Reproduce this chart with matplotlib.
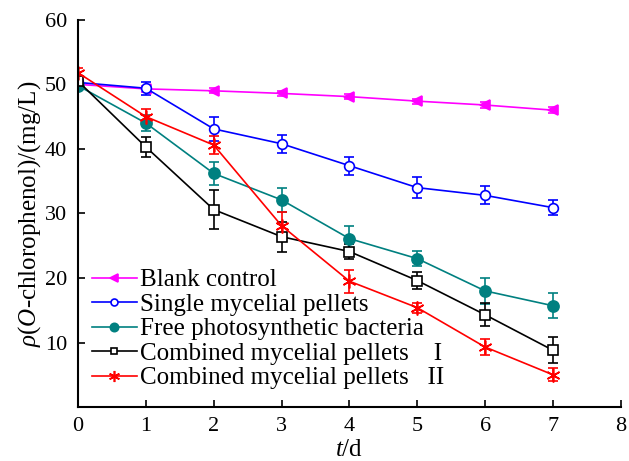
import matplotlib
matplotlib.use("Agg")
import matplotlib.pyplot as plt
from matplotlib.lines import Line2D

plt.rcParams['font.family'] = ['Liberation Serif', 'DejaVu Serif']
plt.rcParams['mathtext.fontset'] = 'custom'
plt.rcParams['mathtext.rm'] = 'Liberation Serif'
plt.rcParams['mathtext.it'] = 'Liberation Serif:italic'

days = [0, 1, 2, 3, 4, 5, 6, 7]
xticks = [0, 1, 2, 3, 4, 5, 6, 7, 8]
yticks = [10, 20, 30, 40, 50, 60]

blank = [50.0, 49.3, 49.0, 48.6, 48.1, 47.4, 46.8, 46.0]
blank_err = [0.5, 0.5, 0.4, 0.4, 0.4, 0.4, 0.4, 0.5]

single = [50.3, 49.4, 43.1, 40.8, 37.4, 34.0, 32.8, 30.9]
single_err = [0.6, 1.0, 1.8, 1.4, 1.4, 1.6, 1.4, 1.2]

free = [49.8, 44.0, 36.2, 32.1, 26.1, 23.0, 18.0, 15.7]
free_err = [0.6, 1.2, 1.8, 1.9, 2.0, 1.2, 2.0, 1.9]

comb1 = [50.5, 40.3, 30.6, 26.4, 24.1, 19.6, 14.3, 8.8]
comb1_err = [0.6, 1.5, 3.0, 2.3, 1.2, 1.3, 1.8, 2.0]

comb2 = [51.8, 45.0, 40.6, 28.1, 19.5, 15.4, 9.3, 5.0]
comb2_err = [0.8, 1.2, 1.4, 2.2, 1.8, 0.8, 1.3, 1.0]

labels = ['Blank control', 'Single mycelial pellets', 'Free photosynthetic bacteria',
          'Combined mycelial pellets    I', 'Combined mycelial pellets   II']

fig = plt.figure(figsize=(6.29, 4.61), dpi=100)
ax = fig.add_axes([0.124, 0.117, 0.863, 0.84])

series = [
    (blank, blank_err, '#ff00ff', dict(marker='<', mfc='#ff00ff', ms=7), dict(marker='<', mfc='#ff00ff', ms=6)),
    (single, single_err, '#0000ff', dict(marker='o', mfc='white', ms=7), dict(marker='o', mfc='white', ms=5)),
    (free, free_err, '#008080', dict(marker='o', mfc='#008080', ms=8), dict(marker='o', mfc='#008080', ms=6)),
    (comb1, comb1_err, '#000000', dict(marker='s', mfc='white', ms=6.5), dict(marker='s', mfc='white', ms=5)),
    (comb2, comb2_err, '#ff0000', dict(marker=(6, 2, 0), mfc='#ff0000', ms=10), dict(marker=(6, 2, 0), mfc='#ff0000', ms=8)),
]
handles = []
for (vals, err, c, mk, lmk), lab in zip(series, labels):
    ax.errorbar(days, vals, yerr=err, color=c, lw=1.2, capsize=3.5, capthick=1.2,
                elinewidth=1.2, mec=c, mew=1.2, **mk)
    handles.append(Line2D([], [], color=c, lw=1.2, mec=c, mew=1.2, label=lab, **lmk))

ax.set_xlim(0, 8)
ax.set_ylim(0, 60)
ax.set_xticks(xticks)
ax.set_yticks(yticks)
ax.tick_params(direction='in', labelsize=16, length=5, width=1.2)
ax.tick_params(axis='x', pad=7)
ax.tick_params(axis='y', pad=8)
for s in ['top', 'right']:
    ax.spines[s].set_visible(False)
for s in ['left', 'bottom']:
    ax.spines[s].set_linewidth(1.5)

ax.set_xlabel(r'$t$/d', fontsize=18, labelpad=2)
ax.set_ylabel(r'$\rho$($O$-chlorophenol)/(mg/L)', fontsize=18, labelpad=1)

ax.legend(handles=handles, loc='lower left', frameon=False, fontsize=18, handlelength=1.8,
          handletextpad=0.12, labelspacing=0.08, borderaxespad=0.0,
          bbox_to_anchor=(0.007, 0.02))

fig.savefig('out.png', dpi=100)
